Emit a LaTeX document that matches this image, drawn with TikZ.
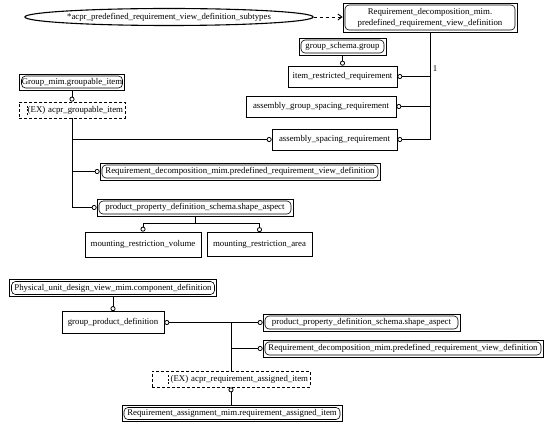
\documentclass[tikz,border=0pt]{standalone}
\usepackage{fontspec}
\setmainfont{Liberation Serif}
\usetikzlibrary{shapes.geometric,arrows.meta,calc}
\newcommand{\fsz}{\fontsize{8.8}{11}\selectfont}
\begin{document}
\begin{tikzpicture}[x=1pt,y=-1pt,
  ent/.style={draw, rectangle, inner sep=0pt, line width=0.7pt, font=\fsz},
  refb/.style={ent, path picture={\draw[rounded corners=4pt, line width=0.6pt]
     ([shift={(2pt,-2pt)}]path picture bounding box.north west) rectangle
     ([shift={(-2pt,2pt)}]path picture bounding box.south east);}},
  exbox/.style={draw, rectangle, dash pattern=on 3pt off 2pt, line width=0.7pt,
     inner xsep=2pt, inner ysep=0pt, align=right, font=\fsz},
  ellnode/.style={draw, ellipse, inner sep=0pt, line width=1.1pt, font=\fsz},
  conn/.style={line width=0.9pt},
  exmark/.style={dash pattern=on 2pt off 1.5pt, line width=0.6pt},
  >={Circle[open,length=5pt,width=5pt,line width=0.8pt]}
]
\useasboundingbox (0,0) rectangle (553,430);

% top part
\node[ellnode, minimum width=282pt, minimum height=17pt] (ell) at (169,17) {*acpr\_predefined\_requirement\_view\_definition\_subtypes};
\node[refb, minimum width=174pt, minimum height=29pt, align=center] (rdtop) at (430,17.5) {Requirement\_decomposition\_mim.\\predefined\_requirement\_view\_definition};
\node[refb, minimum width=87pt, minimum height=17pt] (gsg) at (342.5,46.5) {group\_schema.group};
\node[ent, minimum width=109pt, minimum height=21pt] (irr) at (342.5,76.5) {item\_restricted\_requirement};
\node[ent, minimum width=150pt, minimum height=21pt] (agsr) at (321,106.5) {assembly\_group\_spacing\_requirement};
\node[ent, minimum width=125pt, minimum height=21pt] (asr) at (334.5,139.5) {assembly\_spacing\_requirement};
\node[refb, minimum width=105pt, minimum height=16pt] (gmg) at (72,82) {Group\_mim.groupable\_item};
\node[exbox, text width=102pt, minimum height=16pt] (exa) at (72,110) {(EX) acpr\_groupable\_item};
\node[refb, minimum width=280pt, minimum height=17pt] (rdmid) at (240,171.5) {Requirement\_decomposition\_mim.predefined\_requirement\_view\_definition};
\node[refb, minimum width=196pt, minimum height=17pt] (ppm) at (195,207.5) {product\_property\_definition\_schema.shape\_aspect};
\node[ent, minimum width=116pt, minimum height=25pt] (mrv) at (143,244.5) {mounting\_restriction\_volume};
\node[ent, minimum width=105pt, minimum height=24pt] (mra) at (259.5,244.5) {mounting\_restriction\_area};
\node[font=\fsz, inner sep=0pt] (one) at (435,69) {1};

% bottom part
\node[refb, minimum width=207pt, minimum height=17pt] (pud) at (113,288) {Physical\_unit\_design\_view\_mim.component\_definition};
\node[ent, minimum width=102pt, minimum height=22pt] (gpd) at (113,322.5) {group\_product\_definition};
\node[refb, minimum width=197pt, minimum height=17pt] (ppb) at (361.5,322.5) {product\_property\_definition\_schema.shape\_aspect};
\node[refb, minimum width=280pt, minimum height=17pt] (rdb) at (403,348.5) {Requirement\_decomposition\_mim.predefined\_requirement\_view\_definition};
\node[exbox, text width=154pt, minimum height=16pt] (exb) at (231,379) {(EX) acpr\_requirement\_assigned\_item};
\node[refb, minimum width=220pt, minimum height=16pt] (rab) at (232,413.5) {Requirement\_assignment\_mim.requirement\_assigned\_item};

% marks in select boxes
\draw[exmark] ([xshift=9pt,yshift=-5pt]exa.west) -- ([xshift=9pt,yshift=5pt]exa.west);
\draw[exmark] ([xshift=17pt,yshift=-5pt]exb.west) -- ([xshift=17pt,yshift=5pt]exb.west);

% connectors top
\draw[conn, dashed, -{Straight Barb[length=4pt,width=6pt]}] (ell.east) -- (ell.east -| rdtop.west);
\draw[conn,->] (rdtop.south) |- (irr.east);
\draw[conn,->] (rdtop.south) |- (agsr.east);
\draw[conn,->] (rdtop.south) |- (asr.east);
\draw[conn,->] (gsg.south) -- (irr.north);
\draw[conn,->] (gmg.south) -- (exa.north);
\draw[conn,->] (exa.south) |- (asr.west);
\draw[conn,->] (exa.south) |- (rdmid.west);
\draw[conn,->] (exa.south) |- (ppm.west);
\coordinate (bar) at (195,223);
\draw[conn] (ppm.south) -- (bar);
\draw[conn,->] (bar) -| (mrv.north);
\draw[conn,->] (bar) -| (mra.north);

% connectors bottom
\draw[conn,->] (pud.south) -- (gpd.north);
\draw[conn,<->] (gpd.east) -- (ppb.west);
\coordinate (j) at (231,322.5);
\draw[conn] (j) -- (exb.north);
\draw[conn,->] (j |- rdb.west) -- (rdb.west);
\draw[conn,<-] (exb.south) -- (exb.south |- rab.north);
\end{tikzpicture}
\end{document}
